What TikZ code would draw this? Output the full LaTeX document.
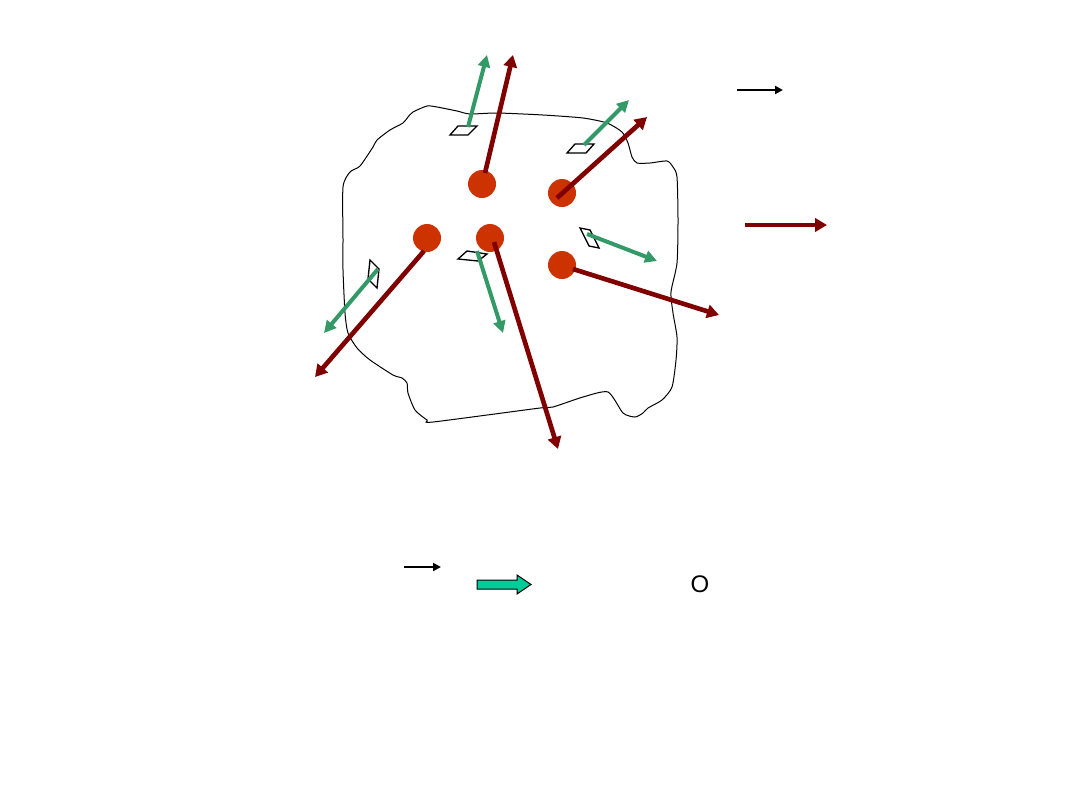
\documentclass[tikz,border=0pt]{standalone}
\definecolor{mydarkred}{RGB}{128, 0, 0}
\definecolor{mygreen}{RGB}{51, 153, 102}
\definecolor{myorange}{RGB}{204, 51, 0}
\definecolor{myteal}{RGB}{0, 204, 153}
\usepackage{fontspec}
\setmainfont{Liberation Sans}
\usepackage{tikz}
\usetikzlibrary{arrows.meta}
\tikzset{every picture/.style={line width=0.75pt}}
\tikzset{
  redball/.style={circle, fill=myorange, inner sep=0pt, minimum size=21pt},
  redarrow/.style={color=mydarkred, line width=3.5pt, -{Triangle[length=9pt,width=10pt]}},
  greenarrow/.style={color=mygreen, line width=3pt, -{Triangle[length=9pt,width=9pt]}},
  blackarrow/.style={color=black, line width=1.5pt, -{Triangle[length=6pt,width=6pt]}},
  patch/.style={draw=black, fill=white, line width=1pt}
}

\begin{document}
\begin{tikzpicture}[x=0.75pt,y=0.75pt,yscale=-1,xscale=1]
\useasboundingbox (0,0) rectangle (1080,810);
%Shape: Blob
\draw [line width=0.75pt] plot [smooth cycle, tension=0.4] coordinates {
  (343,240) (343,187) (350,172) (360,166) (373,147) (377,140) (390,130) (403,123)
  (408,117) (413,112) (427,106) (437,107) (457,111) (470,114) (497,113) (543,115)
  (583,118) (607,123) (622,132) (628,143) (632,157) (637,163) (650,163) (667,161)
  (673,167) (677,177) (678,220) (677,263) (671,292) (673,313) (677,337) (676,360)
  (672,387) (662,400) (648,408) (643,413) (635,417) (623,413) (608,392) (583,397)
  (553,407) (540,408) (433,422) (427,420) (415,410) (408,393) (407,383) (402,378)
  (393,375) (370,360) (357,348) (348,333) (345,313) (343,270)};
%Shape: Parallelograms
\draw [patch] (450,135) -- (458,126) -- (477,126) -- (468,135) -- cycle ;
\draw [patch] (567,153) -- (575,144) -- (594,144) -- (586,153) -- cycle ;
\draw [patch] (580,228) -- (590,230) -- (599,248) -- (589,246) -- cycle ;
\draw [patch] (370,260) -- (379,269) -- (377,288) -- (368,279) -- cycle ;
\draw [patch] (458,259) -- (467,251) -- (487,254) -- (478,261) -- cycle ;
%Straight Lines green
\draw [greenarrow] (468,127) -- (487,55) ;
\draw [greenarrow] (584,145) -- (629,100) ;
\draw [greenarrow] (587,234) -- (657,261) ;
\draw [greenarrow] (378,269) -- (324,333) ;
\draw [greenarrow] (477,251) -- (503,333) ;
%Shape: Circles
\node [redball] (c1) at (482,184) {};
\node [redball] (c2) at (562,193) {};
\node [redball] (c3) at (427,238) {};
\node [redball] (c4) at (490,238) {};
\node [redball] (c5) at (562,265) {};
%Straight Lines red
\draw [redarrow] (485,173) -- (513,55) ;
\draw [redarrow] (557,198) -- (647,117) ;
\draw [redarrow] (424,251) -- (315,377) ;
\draw [redarrow] (494,242) -- (558,449) ;
\draw [redarrow] (573,269) -- (719,315) ;
%Legend
\draw [blackarrow] (737,90) -- (783,90) ;
\draw [redarrow] (745,225) -- (827,225) ;
\draw [blackarrow] (404,567) -- (441,567) ;
\draw [fill=myteal, line width=0.75pt] (477,580) -- (517,580) -- (517,575) -- (531,584.5) -- (517,594) -- (517,589) -- (477,589) -- cycle ;
\node [inner sep=0pt] (oletter) at (700,584) {\fontsize{18}{20}\selectfont O};
\end{tikzpicture}
\end{document}
